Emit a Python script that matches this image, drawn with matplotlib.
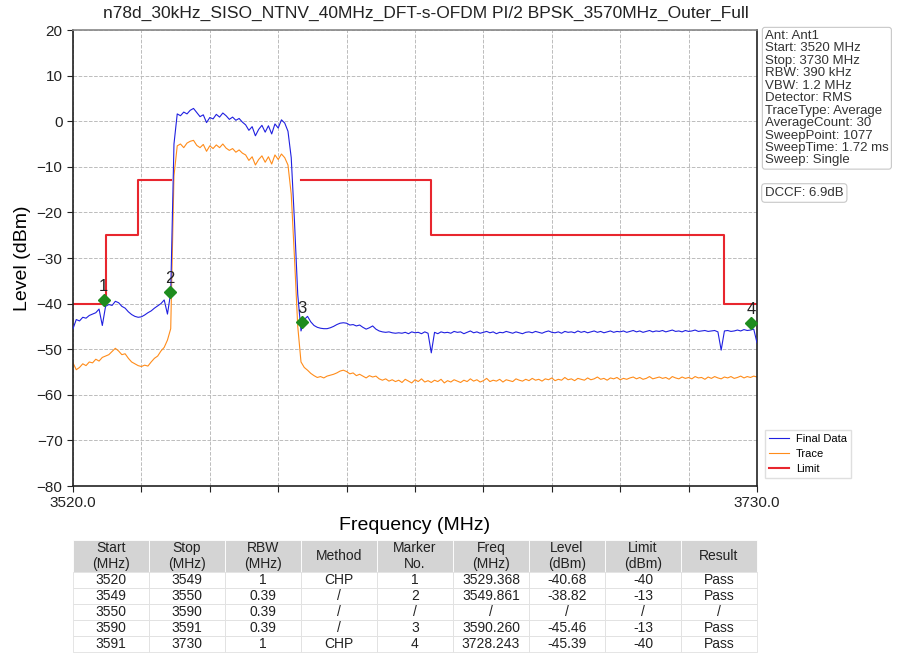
import matplotlib
matplotlib.use('Agg')
import matplotlib.pyplot as plt
import numpy as np

plt.rcParams['font.family'] = ['Liberation Sans', 'DejaVu Sans']

title = 'n78d_30kHz_SISO_NTNV_40MHz_DFT-s-OFDM PI/2 BPSK_3570MHz_Outer_Full'

# sweep grid, 1 MHz steps 3520..3730
freq = np.arange(3520, 3731, 1)

final_data = [
    -45.5, -43.5, -43.8, -43.0, -43.2, -42.6, -42.3, -42.0, -41.2, -44.8,
    -40.6, -40.2, -40.4, -39.5, -39.8, -40.6, -41.0, -41.8, -42.4, -42.8,
    -43.0, -42.9, -42.5, -42.0, -41.6, -41.0, -40.5, -40.0, -39.2, -42.3,
    -37.6, -5.0, 1.6, 1.2, 2.0, 1.6, 2.4, 2.8, 1.9, 1.0,
    1.4, -0.3, 0.8, 0.5, 1.5, 0.9, 1.8, 1.2, 0.4, 0.9,
    0.2, 0.6, -0.2, -0.8, -2.0, -1.2, -3.2, -1.8, -0.9, -2.4,
    -1.0, -2.8, -0.6, -1.5, 0.3, -0.4, -2.2, -8.0, -22.0, -38.0,
    -46.0, -43.5, -42.8, -44.0, -44.8, -45.2, -45.4, -45.5, -45.5, -45.3,
    -45.0, -44.6, -44.3, -44.2, -44.3, -44.7, -44.6, -44.9, -44.7, -45.2,
    -45.6, -45.3, -44.9, -45.6, -46.0, -46.2, -46.3, -46.2, -46.4, -46.5,
    -46.4, -46.5, -46.3, -46.6, -46.2, -46.4, -46.3, -46.6, -46.2, -46.5,
    -50.8, -46.3, -46.6, -46.2, -46.4, -46.3, -46.5, -46.1, -46.3, -46.2,
    -46.6, -46.3, -46.0, -46.4, -46.2, -46.5, -46.3, -46.1, -46.4, -46.2,
    -46.6, -46.3, -46.4, -46.1, -46.3, -46.5, -46.2, -46.4, -46.6, -46.3,
    -46.2, -46.4, -46.1, -46.3, -46.5, -46.2, -46.0, -46.3, -46.4, -46.2,
    -46.5, -46.1, -46.3, -46.2, -46.4, -46.0, -46.3, -46.1, -46.4, -46.2,
    -46.0, -46.3, -46.1, -46.4, -46.2, -46.0, -46.3, -46.1, -46.2, -46.0,
    -46.3, -46.1, -45.9, -46.2, -46.0, -46.3, -46.1, -45.9, -46.2, -46.0,
    -46.1, -45.9, -46.2, -46.0, -45.8, -46.1, -46.0, -46.2, -45.9, -46.1,
    -46.0, -45.8, -46.1, -46.0, -45.9, -46.1, -46.0, -45.9, -46.2, -50.2,
    -46.0, -45.9, -46.1, -46.0, -45.8, -46.0, -45.7, -45.9, -45.8, -45.6,
    -48.6,
]

trace = [
    -53.0, -54.5, -54.0, -53.2, -53.6, -52.8, -53.0, -52.2, -52.6, -51.8,
    -51.5, -51.2, -50.5, -49.8, -50.4, -51.2, -51.0, -52.0, -52.8, -53.2,
    -53.6, -53.8, -53.5, -53.7, -52.8, -52.0, -51.5, -50.4, -49.6, -48.0,
    -45.5, -12.0, -5.4, -5.0, -5.8, -4.8, -4.4, -4.2, -5.3, -5.8,
    -5.1, -6.6, -5.4, -6.0, -5.2, -5.8, -5.0, -5.9, -6.4, -6.0,
    -6.8, -6.3, -7.0, -7.4, -8.6, -7.8, -9.6, -8.4, -7.6, -9.0,
    -7.8, -9.4, -7.4, -8.4, -7.2, -8.0, -9.6, -16.0, -30.0, -45.0,
    -52.8, -54.0, -54.6, -55.3, -55.8, -56.2, -56.0, -56.3, -55.9, -55.7,
    -55.5, -55.2, -54.8, -54.6, -54.9, -55.4, -55.2, -55.8, -55.5, -55.9,
    -56.3, -55.8, -56.1, -55.9, -56.5, -56.8, -56.5, -57.0, -56.7, -57.1,
    -56.8, -57.3, -56.6, -57.0, -57.4, -56.7, -57.1, -56.5, -57.2, -56.9,
    -57.3, -56.8, -57.1, -56.6, -57.4, -56.9, -57.2, -56.7, -57.0, -57.3,
    -56.8, -57.1, -56.5, -57.0, -56.7, -57.2, -56.9, -56.4, -57.1, -56.8,
    -57.0, -56.6, -57.2, -56.7, -56.9, -57.1, -56.5, -56.8, -57.0, -56.6,
    -56.9, -56.4, -56.8, -56.6, -57.0, -56.5, -56.7, -56.3, -56.9, -56.6,
    -56.8, -56.2, -56.7, -56.5, -56.9, -56.4, -56.6, -56.8, -56.3, -56.7,
    -56.5, -56.1, -56.6, -56.4, -56.8, -56.3, -56.5, -56.2, -56.7, -56.4,
    -56.6, -56.3, -56.1, -56.5, -56.2, -56.6, -56.4, -56.0, -56.5, -56.3,
    -56.1, -56.4, -56.2, -56.6, -56.0, -56.3, -56.5, -56.1, -56.4, -56.2,
    -56.5, -56.0, -56.3, -56.2, -56.6, -56.1, -56.4, -56.0, -56.3, -56.5,
    -56.1, -56.3, -56.0, -56.4, -56.2, -55.9, -56.3, -56.0, -56.2, -55.9,
    -56.1,
]

# limit mask segments
limit_start = [3520, 3530, 3540, 3590, 3630, 3720]
limit_stop = [3530, 3540, 3550, 3630, 3720, 3730]
limit_level = [-40, -25, -13, -13, -25, -40]

# markers as drawn on the plot
marker_no = ['1', '2', '3', '4']
marker_freq = [3529.368, 3549.861, 3590.260, 3728.243]
marker_level = [-39.2, -37.4, -44.0, -44.2]

info_lines = ['Ant: Ant1', 'Start: 3520 MHz', 'Stop: 3730 MHz', 'RBW: 390 kHz',
              'VBW: 1.2 MHz', 'Detector: RMS', 'TraceType: Average',
              'AverageCount: 30', 'SweepPoint: 1077', 'SweepTime: 1.72 ms',
              'Sweep: Single']
dccf = 'DCCF: 6.9dB'

col_labels = ['Start\n(MHz)', 'Stop\n(MHz)', 'RBW\n(MHz)', 'Method', 'Marker\nNo.',
              'Freq\n(MHz)', 'Level\n(dBm)', 'Limit\n(dBm)', 'Result']
table_rows = [
    ['3520', '3549', '1', 'CHP', '1', '3529.368', '-40.68', '-40', 'Pass'],
    ['3549', '3550', '0.39', '/', '2', '3549.861', '-38.82', '-13', 'Pass'],
    ['3550', '3590', '0.39', '/', '/', '/', '/', '/', '/'],
    ['3590', '3591', '0.39', '/', '3', '3590.260', '-45.46', '-13', 'Pass'],
    ['3591', '3730', '1', 'CHP', '4', '3728.243', '-45.39', '-40', 'Pass'],
]

W, H = 897, 656
fig = plt.figure(figsize=(W / 100, H / 100), dpi=100)
ax = fig.add_axes([73 / W, 1 - 486 / H, 684 / W, 456 / H])

ax.plot(freq, final_data, color='#2020e0', lw=0.8, label='Final Data', zorder=3)
ax.plot(freq, trace, color='#ff8c1a', lw=0.8, label='Trace', zorder=2)

# build the limit line, breaking where segments don't touch
lx, ly = [], []
for i in range(len(limit_start)):
    if i > 0 and limit_start[i] != limit_stop[i - 1]:
        lx.append(np.nan)
        ly.append(np.nan)
    lx += [limit_start[i], limit_stop[i]]
    ly += [limit_level[i], limit_level[i]]
ax.plot(lx, ly, color='#e8262e', lw=1.5, label='Limit', zorder=2)

ax.plot(marker_freq, marker_level, 'D', color='#1e8c1e', ms=6, zorder=5)
for n, f, l in zip(marker_no, marker_freq, marker_level):
    ax.annotate(n, (f, l), textcoords='offset points', xytext=(0, 4),
                ha='center', va='bottom', fontsize=12, color='#222222')

ax.set_xlim(3520, 3730)
ax.set_ylim(-80, 20)
ax.set_yticks(np.arange(-80, 21, 10))
xt = np.linspace(3520, 3730, 11)
ax.set_xticks(xt)
ax.set_xticklabels(['3520.0'] + [''] * 9 + ['3730.0'])
ax.tick_params(labelsize=11, colors='#222222', length=4)
ax.grid(True, color='#bcbcbc', linestyle='--', lw=0.7)
for s in ax.spines.values():
    s.set_color('#222222')
    s.set_linewidth(1.2)
ax.spines['top'].set_color('#888888')
ax.set_ylabel('Level (dBm)', fontsize=14, labelpad=4)
ax.set_xlabel('Frequency (MHz)', fontsize=14, labelpad=5)

fig.text(426 / W, 1 - 13 / H, title, ha='center', va='center', fontsize=12.5, color='#222222')

fig.text(765 / W, 1 - 30 / H, '\n'.join(info_lines), ha='left', va='top',
         fontsize=9.5, color='#333333', linespacing=1.05,
         bbox=dict(boxstyle='round,pad=0.2', fc='white', ec='#c8c8c8', lw=0.8))
fig.text(765 / W, 1 - 193 / H, dccf, ha='left', va='center', fontsize=9.5,
         color='#333333',
         bbox=dict(boxstyle='round,pad=0.25', fc='white', ec='#c8c8c8', lw=0.8))

ax.legend(loc='lower left', bbox_to_anchor=(759 / W, 1 - 484 / H),
          bbox_transform=fig.transFigure, fontsize=8, handlelength=1.8,
          handletextpad=0.6, frameon=True, fancybox=False, edgecolor='#d8d8d8',
          borderpad=0.4, labelspacing=0.45)

# result table
tax = fig.add_axes([73 / W, 1 - 652 / H, 684 / W, 112 / H])
tax.axis('off')
tbl = tax.table(cellText=table_rows, colLabels=col_labels, cellLoc='center',
                bbox=[0, 0, 1, 1])
tbl.auto_set_font_size(False)
tbl.set_fontsize(10)
for (r, c), cell in tbl.get_celld().items():
    cell.set_edgecolor('#e0e0e0')
    cell.set_linewidth(0.6)
    cell.get_text().set_color('#222222')
    if r == 0:
        cell.set_facecolor('#d4d4d4')
        cell.set_edgecolor('white')
        cell.set_height(cell.get_height() * 2)

fig.savefig('out.png', dpi=100)
